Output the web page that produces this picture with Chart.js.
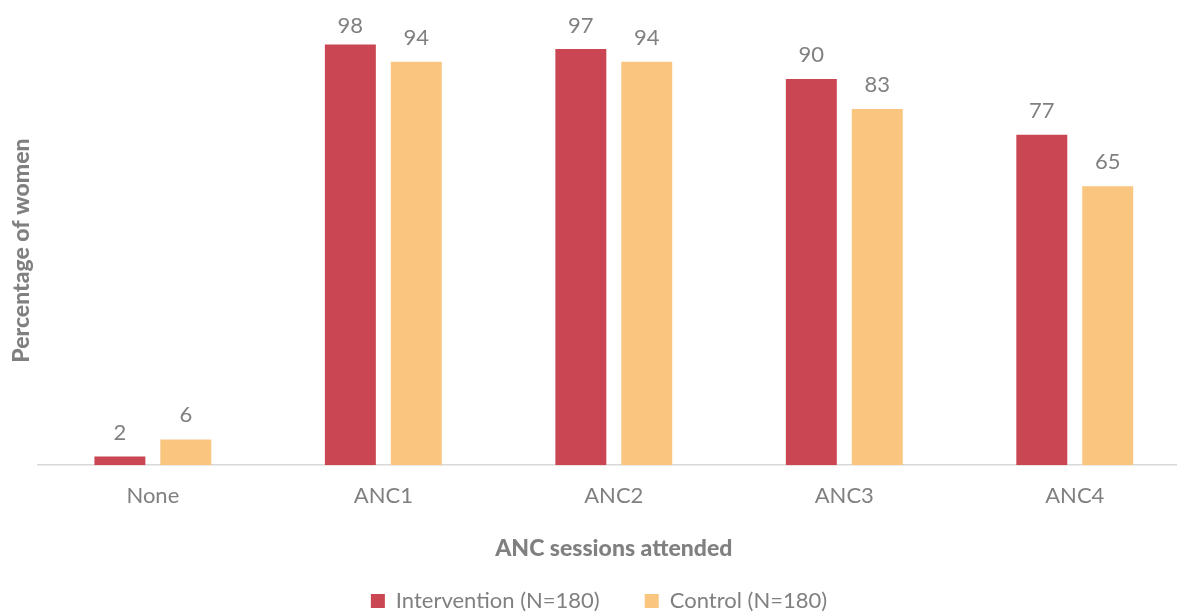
<!DOCTYPE html>
<html>
<head>
<meta charset="utf-8">
<script src="https://cdn.jsdelivr.net/npm/chart.js@4.4.1/dist/chart.umd.min.js"></script>
<style>
  html, body { margin: 0; padding: 0; background: #ffffff; overflow: hidden; }
  #wrap { position: relative; width: 1190px; height: 613px; }
</style>
</head>
<body>
<div id="wrap"><canvas id="c"></canvas></div>
<script>
const categories = ["None", "ANC1", "ANC2", "ANC3", "ANC4"];
const interventionValues = [2, 98, 97, 90, 77];
const controlValues = [6, 94, 94, 83, 65];
const seriesNames = ["Intervention (N=180)", "Control (N=180)"];
const xTitle = "ANC sessions attended";
const yTitle = "Percentage of women";

const TEXT = "#808080";
const FONT = "Lato, 'Open Sans', sans-serif";

const valueLabels = {
  id: "valueLabels",
  afterDatasetsDraw(chart) {
    const ctx = chart.ctx;
    ctx.save();
    ctx.font = "22px " + FONT;
    ctx.fillStyle = TEXT;
    ctx.textAlign = "center";
    ctx.textBaseline = "alphabetic";
    chart.data.datasets.forEach((ds, di) => {
      const meta = chart.getDatasetMeta(di);
      meta.data.forEach((bar, i) => {
        ctx.fillText(String(ds.data[i]), bar.x, Math.max(bar.y - 17, 33));
      });
    });
    ctx.restore();
  }
};

new Chart(document.getElementById("c"), {
  type: "bar",
  data: {
    labels: categories,
    datasets: [
      { label: seriesNames[0], data: interventionValues, backgroundColor: "#C94652",
        categoryPercentage: 0.572, barPercentage: 0.773 },
      { label: seriesNames[1], data: controlValues, backgroundColor: "#F9C57F",
        categoryPercentage: 0.572, barPercentage: 0.773 }
    ]
  },
  options: {
    responsive: true,
    maintainAspectRatio: false,
    animation: false,
    layout: { padding: { left: 8, right: 0, top: 36, bottom: -9 } },
    plugins: {
      tooltip: { enabled: false },
      legend: {
        position: "bottom",
        labels: {
          boxWidth: 14, boxHeight: 14, padding: 45,
          color: TEXT, font: { family: FONT, size: 22 }
        }
      }
    },
    scales: {
      x: {
        grid: { display: true, drawOnChartArea: false, drawTicks: false },
        border: { display: true, color: "#D9D9D9", width: 1.5 },
        ticks: { color: TEXT, font: { family: FONT, size: 22 }, padding: 18 },
        title: { display: true, text: xTitle, color: TEXT,
          font: { family: FONT, size: 23, weight: "900" },
          padding: { top: 7, bottom: -17.2 } }
      },
      y: {
        min: 0, max: 100,
        grid: { display: false },
        border: { display: false },
        ticks: { display: false },
        title: { display: true, text: yTitle, color: TEXT,
          font: { family: FONT, size: 23, weight: "900" },
          padding: { top: 0, bottom: -6 } }
      }
    }
  },
  plugins: [valueLabels]
});
</script>
</body>
</html>
